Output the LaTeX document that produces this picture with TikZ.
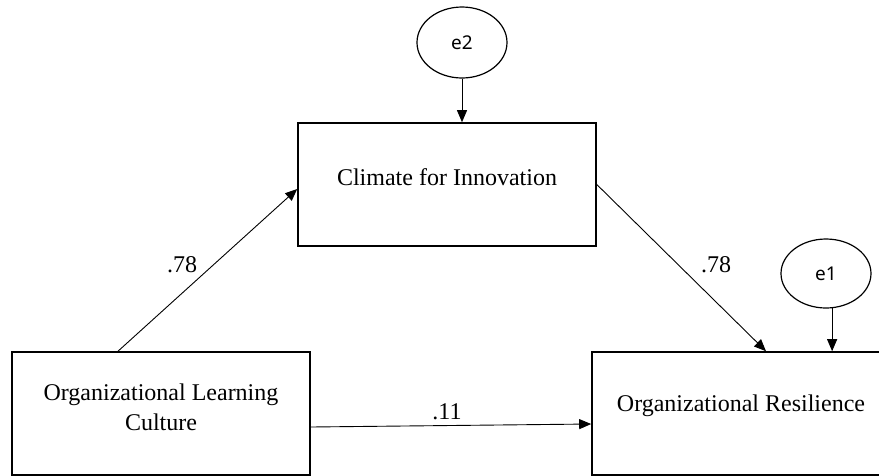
\documentclass[tikz,border=0pt]{standalone}
\usepackage{fontspec}
\setmainfont{Liberation Serif}
\newfontfamily\errfont{Noto Sans}
\usetikzlibrary{arrows.meta,shapes.geometric}
\tikzset{
  varbox/.style={draw, line width=1.6pt, rectangle, minimum width=298pt, minimum height=123pt, inner sep=0pt},
  errnode/.style={draw, line width=1.2pt, ellipse, inner sep=0pt, font=\errfont\fontsize{19}{22}\selectfont},
  boxtext/.style={font=\fontsize{24}{30}\selectfont, align=center},
  coef/.style={font=\fontsize{24}{30}\selectfont, inner sep=0pt},
  path/.style={line width=0.9pt, -{Triangle[length=12pt,width=10pt]}}
}
\begin{document}
\begin{tikzpicture}[x=1pt,y=-1pt]
\useasboundingbox (0,0) rectangle (879,475);
\clip (0,0) rectangle (879,475);
\node[varbox] (clim) at (447,184.5) {};
\node[boxtext] (climt) at (447,177) {Climate for Innovation};
\node[varbox] (olc) at (161,413.5) {};
\node[boxtext] (olct) at (161,407) {Organizational Learning\\Culture};
\node[varbox] (or) at (741,413.5) {};
\node[boxtext] (ort) at (741,406) {Organizational Resilience};
\node[errnode, minimum width=90pt, minimum height=71pt] (e2) at (462,42.5) {e2};
\node[errnode, minimum width=90pt, minimum height=69pt] (e1) at (826,273.5) {e1};
\draw[path] (e2.south) -- (e2.south |- clim.north);
\draw[path] (e1.-80) -- (e1.-80 |- or.north);
\draw[path] ([xshift=-43pt]olc.north) -- ([yshift=-4.5pt]clim.west);
\draw[path] (clim.east) -- ([xshift=25pt]or.north);
\draw[path] ([yshift=-13.5pt]olc.east) -- ([yshift=-10.5pt]or.west);
\node[coef] (c1) at (182,265) {.78};
\node[coef] (c2) at (716,265) {.78};
\node[coef] (c3) at (447,412) {.11};
\end{tikzpicture}
\end{document}
